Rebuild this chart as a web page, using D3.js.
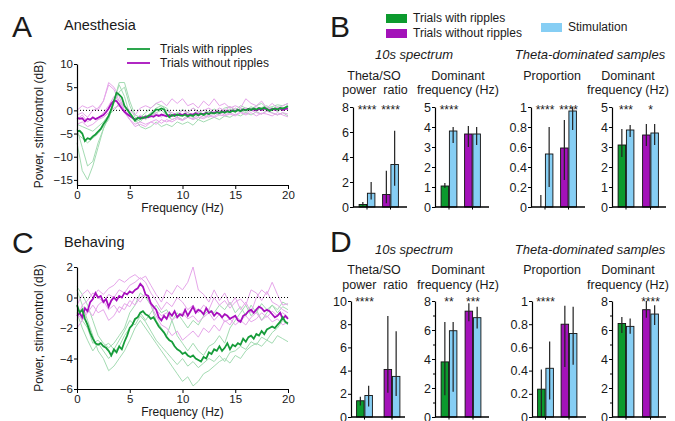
<!DOCTYPE html>
<html>
<head>
<meta charset="utf-8">
<script src="https://cdn.jsdelivr.net/npm/d3@7"></script>
<style>
body { margin: 0; background: #fff; }
svg { font-family: "Liberation Sans", Arial, Helvetica, sans-serif; }
</style>
</head>
<body>
<svg id="fig" width="675" height="421"></svg>
<script>
// ---- spectra (values evenly spaced from 0 to 20 Hz) ----
const aGreenMain = [-4.5,-4.4,-5.0,-6.6,-6.0,-6.2,-5.6,-5.2,-4.6,-4.0,
  -3.0,-2.2,-1.2,0.2,2.0,3.8,3.4,2.8,1.0,0.2,
  -0.6,-1.4,-2.2,-1.6,-1.8,-1.5,-1.6,-1.2,-0.9,-0.4,
  0.2,0.1,0.4,0.2,-0.8,-1.5,-1.0,-1.2,-0.9,-1.1,
  -1.2,-0.9,-1.3,-1.0,-1.2,-0.8,-1.1,-0.7,-1.0,-0.6,
  -0.8,-0.5,-0.7,-0.4,-0.6,-0.3,-0.5,-0.2,-0.4,-0.1,
  -0.3,0.1,-0.2,0.2,0.0,0.3,0.1,0.4,0.2,0.5,
  0.3,0.6,0.3,-0.1,0.2,0.4,0.2,0.5,0.4,0.6,0.9];
const aPurpleMain = [-1.6,-1.8,-1.7,-2.4,-1.8,-2.0,-1.5,-1.9,-1.6,-1.3,
  -1.0,-0.4,0.4,1.4,2.1,2.0,1.2,0.4,-0.3,-0.8,
  -1.2,-1.6,-2.0,-1.7,-1.5,-1.7,-1.3,-1.5,-1.2,-1.4,
  -1.0,-1.2,-0.9,-1.1,-1.3,-1.0,-1.2,-0.9,-1.1,-0.8,
  -1.0,-0.7,-1.1,-0.8,-0.9,-0.6,-0.9,-0.7,-0.8,-0.5,
  -0.8,-0.4,-0.6,-0.3,-0.5,-0.2,-0.4,-0.1,-0.3,0.0,
  -0.2,0.1,-0.1,0.2,0.0,0.3,0.1,0.2,0.0,0.3,
  0.1,0.4,0.2,0.0,0.3,0.1,0.2,0.4,0.1,0.3,0.4];
const aGreenTrials = [
  [-7,-13,-15,-12,-8,-4,-1,2,5.5,3,-1,-2.5,-2,-1.5,-0.5,0.5,1,0.5,-1,-0.5,-1,-0.5,-1.2,-0.5,-0.8,-0.2,-0.6,0,-0.4,0.3,-0.2,0.5,0,0.8,0.2,0.6,1.0,0.2,0.8,0.4,1.2],
  [-4,-8,-12,-11,-7,-4,-1.5,1.5,4,5,1,-1.5,-2.5,-1,-1.5,-0.5,0,-1,-2,-1.5,-2,-1,-1.5,-2,-1,-1.5,-0.5,-1,0,-0.5,0.5,0,-0.5,0.5,-0.2,0.5,0,0.6,-0.3,0.5,0.3],
  [-5,-6,-7,-6,-5,-3.5,-2,2,6,6,2,-1,-1.5,-0.5,0.5,1.5,1,0,-1,-0.8,0.2,-0.5,0.5,-0.3,0,-0.5,0.3,-0.3,0.5,0.8,0,1,0.5,0.2,1,1.5,0.5,0.8,1.2,1.0,1.5],
  [-3,-3.5,-4,-4.5,-3.5,-2.5,-1,0,1.5,1,-0.5,-2,-3.5,-4,-3.5,-2.5,-3.5,-3,-3.5,-2.5,-3,-2.5,-3.2,-2,-2.5,-2,-1.5,-2,-1.2,-1.5,-0.8,-1.2,-0.5,-1,-0.3,-0.8,0,-0.5,-1,-0.5,-1.2]
];
const aPurpleTrials = [
  [-1,-0.5,-1.5,0,0.5,2,6,5,3,0,-2,-3,-2.5,-3,-2.5,-3,-2,-2.5,-2,-1.5,-2,-1.5,-1.8,-1,-1.5,-1,-1.3,-0.5,-1,-0.5,-1,-0.3,-0.8,0,-0.5,-0.8,-0.2,-0.6,-1,-0.5,-0.8],
  [0,1,0.5,1,0,2,5.5,4.5,2,1,0,-1,0.5,1,0.5,1.5,2,1,2.5,1.5,2.5,1,1.5,0.5,2,1,2.5,1,1.5,0.5,1,0.5,2.5,1.5,1,2,0.5,1.5,0.5,1,1.5],
  [-3,-2.5,-3.5,-3,-2,-1.5,-0.5,0.5,1,-0.5,-2,-3.5,-3,-3.5,-2.5,-2,-2.8,-2,-2.5,-1.8,-2.2,-1.5,-2,-1.5,-1.8,-1.2,-1.5,-1,-1.2,-0.8,-1.2,-0.5,-1,-0.5,-1.2,-0.6,-0.8,-1.2,-0.5,-1,-1.4],
  [-2,-1,-2.5,-1.5,-2,-0.5,1,3,2,0,-1,-2,-1,-2,-1,-0.5,-1.5,0,-0.5,-1,0,-0.5,0.5,-0.5,0,0.5,-0.3,0.5,0,0.8,0.3,0,0.5,0.2,0.8,0.3,0.5,0.2,0.6,0,0.5]
];

const cGreenMain = [-0.5,-1.0,-0.8,-1.4,-1.8,-2.3,-2.7,-3.0,-3.1,-3.0,
  -3.2,-3.3,-3.5,-3.8,-3.4,-3.6,-3.2,-3.4,-2.9,-2.5,
  -2.0,-1.8,-1.4,-1.3,-1.0,-0.9,-1.1,-1.2,-1.4,-1.3,
  -1.6,-1.9,-2.1,-2.3,-2.6,-2.8,-2.9,-3.2,-3.4,-3.5,
  -3.7,-3.6,-3.8,-3.9,-3.8,-4.0,-4.1,-4.2,-3.9,-4.0,
  -3.6,-3.7,-3.4,-3.5,-3.2,-3.5,-3.3,-3.0,-3.4,-3.1,
  -3.2,-3.0,-3.1,-2.7,-2.9,-2.6,-2.5,-2.7,-2.4,-2.5,
  -2.2,-2.4,-2.1,-2.0,-1.9,-2.0,-1.8,-1.6,-1.3,-1.6,-1.7];
const cPurpleMain = [-1.2,-1.0,-1.3,-0.7,-0.9,-0.3,-0.1,0.3,0.0,0.1,
  -0.3,-0.1,-0.6,-0.2,0.0,-0.2,0.1,0.0,0.3,0.2,
  0.4,0.3,0.5,0.6,0.9,0.7,0.2,0.1,-0.4,-0.6,
  -0.8,-1.3,-1.5,-1.2,-1.4,-1.0,-1.2,-0.9,-1.3,-1.1,
  -1.2,-0.8,-1.2,-0.9,-0.6,-1.0,-0.8,-0.9,-1.1,-0.7,
  -1.0,-0.9,-1.2,-1.0,-1.1,-1.3,-1.1,-1.2,-1.4,-1.3,
  -1.2,-1.5,-1.6,-1.2,-1.1,-0.9,-0.8,-1.0,-0.8,-0.6,
  -0.7,-0.9,-0.8,-0.9,-1.1,-1.3,-1.2,-1.0,-1.4,-1.2,-1.4];
const cGreenTrials = [
  [0.5,-0.5,-1.5,-2.5,-3.5,-4.0,-4.8,-4.5,-4.0,-3.5,-2.8,-2.0,-1.5,-2.0,-2.5,-3.0,-3.5,-4.0,-4.5,-5.0,-5.5,-5.2,-5.8,-5.5,-5.0,-4.8,-4.5,-4.2,-4.0,-4.3,-3.8,-4.0,-3.5,-3.2,-3.0,-3.2,-2.8,-3.0,-2.5,-2.7,-2.9],
  [0.7,0.2,-0.5,-1.5,-2.5,-3.0,-3.3,-3.0,-2.5,-2.0,-1.0,-0.5,0.3,0.0,-0.5,-1.5,-2.0,-2.5,-1.5,-2.5,-3.0,-3.5,-3.0,-3.5,-3.8,-3.2,-3.0,-2.5,-3.0,-2.0,-1.5,-1.0,-0.5,-1.2,-0.8,-1.5,-1.0,-0.5,-0.8,-0.3,-0.5],
  [-1.0,-2.0,-2.8,-3.5,-3.0,-3.5,-4.0,-3.6,-3.2,-2.5,-2.0,-1.5,-1.0,-1.5,-1.0,-0.5,-1.0,-0.8,-1.5,-1.0,-1.5,-2.0,-1.5,-1.8,-1.2,-0.8,-1.0,-0.5,-0.8,-0.3,-1.0,-0.6,-1.2,-0.5,-1.0,-0.4,-0.8,-0.5,-1.0,-0.6,-0.8],
  [-0.5,-1.5,-2.0,-3.0,-2.8,-3.2,-3.0,-3.4,-2.8,-2.2,-1.5,-1.8,-1.2,-1.6,-2.2,-2.8,-3.2,-3.6,-4.0,-4.4,-4.0,-4.5,-4.2,-4.6,-4.3,-4.0,-4.2,-3.8,-4.2,-3.6,-3.5,-3.2,-3.4,-2.9,-3.1,-2.6,-2.8,-2.3,-2.0,-1.5,-1.8]
];
const cPurpleTrials = [
  [-0.5,0.2,0.5,0.0,0.5,0.2,0.6,0.8,1.2,1.0,1.3,1.5,1.2,1.4,0.8,0.2,-0.3,0.5,0.2,0.8,0.5,1.0,2.0,0.5,0.2,-0.3,0.5,-0.2,0.3,-0.5,0.0,-0.8,-0.3,-1.0,0.0,0.5,0.2,1.0,0.2,-0.5,-0.4],
  [-1.5,-0.5,-0.2,0.3,0.0,-0.3,0.2,0.0,0.5,0.3,0.8,1.0,1.3,1.0,0.3,-0.2,-0.8,-0.3,-0.6,0.0,-0.3,-0.8,-0.5,-1.0,-0.5,-0.8,0.0,-0.5,-0.2,-0.7,-0.3,-0.1,-0.5,0.5,0.3,-0.2,0.4,-0.3,-0.5,-0.8,-1.0],
  [-2.0,-1.5,-1.0,-0.5,-1.0,-0.8,-1.5,-1.2,-0.6,-0.8,-0.2,-0.5,0.0,0.2,-0.5,-1.2,-1.8,-2.0,-2.5,-2.2,-2.8,-2.5,-2.2,-2.6,-2.0,-2.3,-1.8,-2.2,-1.5,-1.8,-1.2,-1.5,-1.8,-1.3,-1.0,-1.5,-1.2,-1.6,-1.4,-1.8,-1.6],
  [-1.0,-1.5,-0.8,-1.2,-0.5,-0.2,-0.8,-0.5,-1.0,-0.4,-0.6,0.0,-0.3,0.2,-0.3,-0.8,-1.2,-1.0,-1.5,-1.2,-1.0,-1.4,-1.2,-1.6,-1.3,-1.0,-1.5,-1.1,-1.6,-1.4,-1.8,-1.5,-1.2,-1.6,-1.4,-1.0,-1.3,-0.9,-1.2,-1.0,-1.3]
];

// ---- bar panels: [mean, low, high] for ripples, ripples+stim, no ripples, no ripples+stim ----
const groupNames = ["ripples", "noRipples"];
const bRatio = [[0.2,0.1,0.4],[1.1,0.6,2.0],[1.0,0.3,2.9],[3.4,1.7,6.1]];
const bFreq = [[1.05,0.95,1.2],[3.8,3.2,4.0],[3.65,3.0,4.05],[3.65,3.1,4.0]];
const bProp = [[0,0,0.12],[0.53,0.2,0.8],[0.59,0.27,0.87],[0.96,0.77,1.0]];
const bThetaFreq = [[3.1,2.5,3.9],[3.85,3.5,4.1],[3.6,3.05,4.15],[3.7,3.1,4.15]];
const dRatio = [[1.4,1.0,1.75],[1.85,0.9,2.7],[4.1,2.1,8.7],[3.5,1.8,7.4]];
const dFreq = [[3.8,1.5,6.55],[5.95,1.75,6.55],[7.3,6.6,7.85],[6.85,6.1,7.6]];
const dProp = [[0.24,0,0.41],[0.42,0.15,0.65],[0.8,0.43,0.96],[0.72,0.45,0.95]];
const dThetaFreq = [[6.45,5.8,6.9],[6.25,5.75,6.8],[7.4,6.85,8.0],[7.1,6.35,7.7]];
const bRatioStars = ["****","****"], bFreqStars = ["****",""], bPropStars = ["****","****"], bThetaFreqStars = ["***","*"];
const dRatioStars = ["****",""], dFreqStars = ["**","***"], dPropStars = ["****",""], dThetaFreqStars = ["","****"];

const green = "#0c9a2e", purple = "#a312b9", blue = "#86cef4";
const lineGreen = "#169c3a", linePurple = "#a70fbd";
const thinGreen = "#a3dbb2", thinPurple = "#e6a6ea";
const barFill = [green, blue, purple, blue];

const svg = d3.select("#fig");

function text(x, y, s, size, opt) {
  opt = opt || {};
  return svg.append("text").attr("x", x).attr("y", y).text(s)
    .attr("font-size", size)
    .attr("fill", "#1a1a1a")
    .attr("text-anchor", opt.anchor || "start")
    .attr("font-style", opt.italic ? "italic" : null);
}

function styleAxis(sel, size) {
  sel.attr("font-family", null).attr("font-size", size);
  sel.select(".domain").attr("stroke", "#000").attr("stroke-width", 1.2);
  sel.selectAll(".tick line").attr("stroke", "#000");
  sel.selectAll(".tick text").attr("fill", "#1a1a1a");
}

function lineChart(o) {
  const g = svg.append("g");
  const x = d3.scaleLinear().domain([0, 20]).range([o.left, o.right]);
  const y = d3.scaleLinear().domain(o.yDomain).range([o.bottom, o.top]);
  const path = arr => d3.line()
    .x((d, i) => x(i * 20 / (arr.length - 1)))
    .y(d => y(d))(arr);

  o.thinG.forEach(a => g.append("path").attr("d", path(a))
    .attr("fill", "none").attr("stroke", thinGreen).attr("stroke-width", 1));
  o.thinP.forEach(a => g.append("path").attr("d", path(a))
    .attr("fill", "none").attr("stroke", thinPurple).attr("stroke-width", 1));

  g.append("line")
    .attr("x1", x(0)).attr("x2", x(20)).attr("y1", y(0)).attr("y2", y(0))
    .attr("stroke", "#000").attr("stroke-width", 1).attr("stroke-dasharray", "1,2");

  g.append("path").attr("d", path(o.mainP))
    .attr("fill", "none").attr("stroke", linePurple).attr("stroke-width", 1.8);
  g.append("path").attr("d", path(o.mainG))
    .attr("fill", "none").attr("stroke", lineGreen).attr("stroke-width", 1.8);

  g.append("g").attr("transform", `translate(0,${o.bottom})`)
    .call(d3.axisBottom(x).tickValues([0, 5, 10, 15, 20]).tickSize(4).tickSizeOuter(0).tickPadding(2))
    .call(s => styleAxis(s, 11.5));
  g.append("g").attr("transform", `translate(${o.left},0)`)
    .call(d3.axisLeft(y).tickValues(o.yTicks).tickSize(3).tickSizeOuter(0).tickPadding(1))
    .call(s => styleAxis(s, 11.5));

  text((o.left + o.right) / 2, o.bottom + 27, "Frequency (Hz)", 12, { anchor: "middle" });
  svg.append("text")
    .attr("transform", `translate(${o.left - 34},${(o.top + o.bottom) / 2}) rotate(-90)`)
    .attr("text-anchor", "middle").attr("font-size", 12).attr("fill", "#1a1a1a")
    .text("Power, stim/control (dB)");
}

function barChart(o) {
  const g = svg.append("g");
  const y = d3.scaleLinear().domain([0, o.max]).range([o.bottom, o.top]);
  const xg = d3.scalePoint().domain(groupNames).range([o.axis + o.c1, o.axis + o.c2]);
  const bw = 7.5;
  const cx = (d, i) => xg(groupNames[Math.floor(i / 2)]) + (i % 2 === 0 ? -bw / 2 - 0.4 : bw / 2 + 0.4);

  g.selectAll("rect.bar").data(o.data).join("rect")
    .attr("class", "bar")
    .attr("x", (d, i) => cx(d, i) - bw / 2)
    .attr("width", bw)
    .attr("y", d => y(d[0]))
    .attr("height", d => y(0) - y(d[0]))
    .attr("fill", (d, i) => barFill[i])
    .attr("stroke", "#111").attr("stroke-width", 0.9);

  g.selectAll("line.err").data(o.data).join("line")
    .attr("class", "err")
    .attr("x1", cx).attr("x2", cx)
    .attr("y1", d => y(d[1])).attr("y2", d => y(d[2]))
    .attr("stroke", "#222").attr("stroke-width", 1.2);

  // baseline with group ticks
  g.append("line").attr("x1", o.axis).attr("x2", o.axis + 54)
    .attr("y1", y(0)).attr("y2", y(0)).attr("stroke", "#000").attr("stroke-width", 1.4);
  g.selectAll("line.gt").data(groupNames).join("line").attr("class", "gt")
    .attr("x1", d => xg(d)).attr("x2", d => xg(d))
    .attr("y1", y(0)).attr("y2", y(0) + 2.5).attr("stroke", "#000");

  if (o.minor) {
    g.append("g").attr("transform", `translate(${o.axis},0)`)
      .call(d3.axisLeft(y).tickValues(o.minor).tickSize(2).tickFormat(""))
      .call(s => { s.select(".domain").remove(); s.selectAll("line").attr("stroke", "#000"); });
  }
  g.append("g").attr("transform", `translate(${o.axis},0)`)
    .call(d3.axisLeft(y).tickValues(o.ticks).tickSize(3).tickSizeOuter(0).tickPadding(1)
      .tickFormat(d3.format("")))
    .call(s => styleAxis(s, 12.5));

  o.stars.forEach((s, i) => {
    if (s) text(xg(groupNames[i]), o.starY, s, 12, { anchor: "middle" });
  });
}

// ---- panel letters and titles ----
text(12, 37, "A", 30);
text(64, 30, "Anesthesia", 14.5);
text(12, 253, "C", 30);
text(64, 247, "Behaving", 14.5);
text(330, 37, "B", 30);
text(330, 252, "D", 30);

// legend for A
[[lineGreen, "Trials with ripples", 49], [linePurple, "Trials without ripples", 63]].forEach(d => {
  svg.append("line").attr("x1", 127).attr("x2", 150).attr("y1", d[2]).attr("y2", d[2])
    .attr("stroke", d[0]).attr("stroke-width", 1.8);
  text(160, d[2] + 4, d[1], 12);
});

// legend for B
[[green, "Trials with ripples", 386, 14, 413, 22], [purple, "Trials without ripples", 386, 29, 413, 37],
 [blue, "Stimulation", 541, 23, 568, 31]].forEach(d => {
  svg.append("rect").attr("x", d[2]).attr("y", d[3]).attr("width", 21).attr("height", 9).attr("fill", d[0]);
  text(d[4], d[5], d[1], 12);
});

lineChart({ left: 77, right: 288, top: 64, bottom: 185, yDomain: [-16.1, 10],
  yTicks: [-15, -10, -5, 0, 5, 10], mainG: aGreenMain, mainP: aPurpleMain,
  thinG: aGreenTrials, thinP: aPurpleTrials });
lineChart({ left: 77, right: 288, top: 267, bottom: 389, yDomain: [-6, 2],
  yTicks: [-6, -4, -2, 0, 2], mainG: cGreenMain, mainP: cPurpleMain,
  thinG: cGreenTrials, thinP: cPurpleTrials });

// sub titles
[[0, 59, 80, 94], [215, 254, 274, 289]].forEach(r => {
  text(414, r[1], "10s spectrum", 13, { anchor: "middle", italic: true });
  text(590, r[1], "Theta-dominated samples", 13, { anchor: "middle", italic: true });
  text(374, r[2], "Theta/SO", 12.5, { anchor: "middle" });
  text(375, r[3], "power\u00a0\u00a0ratio", 12.5, { anchor: "middle" });
  text(458, r[2], "Dominant", 12.5, { anchor: "middle" });
  text(458, r[3], "frequency (Hz)", 12.5, { anchor: "middle" });
  text(552, r[2], "Proportion", 12.5, { anchor: "middle" });
  text(628, r[2], "Dominant", 12.5, { anchor: "middle" });
  text(628, r[3], "frequency (Hz)", 12.5, { anchor: "middle" });
});

// B row
barChart({ axis: 353, top: 107, bottom: 207, max: 8, ticks: [0, 2, 4, 6, 8], c1: 14, c2: 37.5, data: bRatio, stars: bRatioStars, starY: 114 });
barChart({ axis: 435, top: 107, bottom: 207, max: 5, ticks: [0, 1, 2, 3, 4, 5], c1: 14, c2: 37.5, data: bFreq, stars: bFreqStars, starY: 114 });
barChart({ axis: 531, top: 107, bottom: 207, max: 1, ticks: [0, 0.2, 0.4, 0.6, 0.8, 1], c1: 14, c2: 37.5, data: bProp, stars: bPropStars, starY: 114 });
barChart({ axis: 612, top: 107, bottom: 207, max: 5, ticks: [0, 1, 2, 3, 4, 5], c1: 14, c2: 38.5, data: bThetaFreq, stars: bThetaFreqStars, starY: 114 });

// D row
barChart({ axis: 351, top: 301, bottom: 417, max: 10, ticks: [0, 2, 4, 6, 8, 10], c1: 13.5, c2: 41, data: dRatio, stars: dRatioStars, starY: 306 });
barChart({ axis: 435, top: 301, bottom: 417, max: 8, ticks: [0, 2, 4, 6, 8], minor: [1, 3, 5, 7], c1: 14, c2: 38, data: dFreq, stars: dFreqStars, starY: 306 });
barChart({ axis: 532, top: 301, bottom: 417, max: 1, ticks: [0, 0.2, 0.4, 0.6, 0.8, 1], c1: 13.5, c2: 37, data: dProp, stars: dPropStars, starY: 306 });
barChart({ axis: 612, top: 301, bottom: 417, max: 8, ticks: [0, 2, 4, 6, 8], minor: [1, 3, 5, 7], c1: 14, c2: 38.5, data: dThetaFreq, stars: dThetaFreqStars, starY: 306 });
</script>
</body>
</html>
